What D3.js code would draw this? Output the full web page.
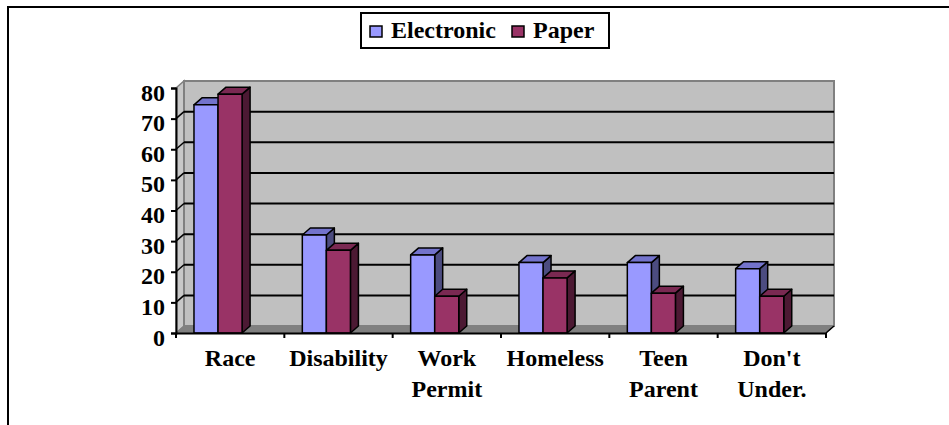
<!DOCTYPE html>
<html>
<head>
<meta charset="utf-8">
<script src="https://cdn.jsdelivr.net/npm/d3@7/dist/d3.min.js"></script>
<style>
  html, body { margin: 0; padding: 0; background: #ffffff; }
  svg { display: block; }
</style>
</head>
<body>
<svg id="chart" width="949" height="425"></svg>
<script>
// Survey responses by category, for each submission format
const categories = ["Race", "Disability", "Work Permit", "Homeless", "Teen Parent", "Don't Under."];
const categoryLines = [["Race"], ["Disability"], ["Work", "Permit"], ["Homeless"], ["Teen", "Parent"], ["Don't", "Under."]];
const seriesNames = ["Electronic", "Paper"];
const electronic = [74.5, 32, 25.5, 23, 23, 21];
const paper = [78, 27, 12, 18, 13, 12];
const yTicks = [0, 10, 20, 30, 40, 50, 60, 70, 80];

const seriesValues = [electronic, paper];
const faceColors = {
  Electronic: { front: "#9999ff", top: "#7373cc", side: "#4c4c80" },
  Paper: { front: "#993366", top: "#7a2952", side: "#4c1933" }
};
const FONT = "'Liberation Serif', 'Times New Roman', Times, serif";

const svg = d3.select("#chart");

function styleText(sel) {
  return sel.style("font-family", FONT).style("font-weight", "bold").style("fill", "#000");
}

// outer frame
svg.append("rect")
  .attr("x", 8).attr("y", 7).attr("width", 1000).attr("height", 500)
  .attr("fill", "none").attr("stroke", "#000").attr("stroke-width", 2);

// 3D projection offset for depth
const dx = 8, dy = 7;

const x0 = d3.scaleBand().domain(categories).range([176, 826]);
const x1 = d3.scaleBand().domain(seriesNames)
  .range([x0.bandwidth() * 0.166, x0.bandwidth() * 0.61]);
const y = d3.scaleLinear().domain([0, 80]).range([333, 88]);

const xL = 176, xR = 826, yBase = y(0), yTop = y(80);

// side wall (left)
svg.append("polygon")
  .attr("points", [[xL, yTop], [xL + dx, yTop - dy], [xL + dx, yBase - dy], [xL, yBase]].join(" "))
  .attr("fill", "#c8c8c8").attr("stroke", "#808080").attr("stroke-width", 1.5);

// back wall
svg.append("rect")
  .attr("x", xL + dx).attr("y", yTop - dy)
  .attr("width", xR - xL).attr("height", yBase - yTop)
  .attr("fill", "#c0c0c0").attr("stroke", "#808080").attr("stroke-width", 2);

// gridlines on back wall and side wall
const grid = svg.append("g");
yTicks.filter(t => t > 0 && t < 80).forEach(t => {
  grid.append("line")
    .attr("x1", xL + dx).attr("x2", xR + dx)
    .attr("y1", y(t) - dy).attr("y2", y(t) - dy)
    .attr("stroke", "#000").attr("stroke-width", 2);
  grid.append("line")
    .attr("x1", xL).attr("x2", xL + dx)
    .attr("y1", y(t)).attr("y2", y(t) - dy)
    .attr("stroke", "#000").attr("stroke-width", 1.5);
});

// floor
svg.append("polygon")
  .attr("points", [[xL, yBase], [xL + dx, yBase - dy], [xR + dx, yBase - dy], [xR, yBase]].join(" "))
  .attr("fill", "#808080").attr("stroke", "#808080").attr("stroke-width", 1);

// bars
const bars = svg.append("g");
categories.forEach((cat, ci) => {
  seriesNames.forEach((s, si) => {
    const v = seriesValues[si][ci];
    const bx = x0(cat) + x1(s);
    const w = x1.bandwidth();
    const by = y(v);
    const c = faceColors[s];
    const g = bars.append("g").attr("stroke", "#000").attr("stroke-width", 1.5).attr("stroke-linejoin", "round");
    g.append("polygon")
      .attr("points", [[bx + w, by], [bx + w + dx, by - dy], [bx + w + dx, yBase - dy], [bx + w, yBase]].join(" "))
      .attr("fill", c.side);
    g.append("polygon")
      .attr("points", [[bx, by], [bx + dx, by - dy], [bx + w + dx, by - dy], [bx + w, by]].join(" "))
      .attr("fill", c.top);
    g.append("rect")
      .attr("x", bx).attr("y", by).attr("width", w).attr("height", yBase - by)
      .attr("fill", c.front);
  });
});

// y axis
const yAxis = d3.axisLeft(y).tickValues(yTicks).tickSize(5).tickPadding(6).tickFormat(d3.format("d"));
const gy = svg.append("g").attr("transform", `translate(${xL},0)`).call(yAxis)
  .attr("font-family", null).attr("font-size", null);
gy.select(".domain").attr("stroke", "#000").attr("stroke-width", 2);
gy.selectAll(".tick line").attr("stroke", "#000").attr("stroke-width", 2);
styleText(gy.selectAll(".tick text"))
  .style("font-size", "24px").attr("dy", "0.42em").attr("y", 2);

// x axis
const xAxis = d3.axisBottom(x0).tickSize(0).tickFormat("");
const gx = svg.append("g").attr("transform", `translate(0,${yBase})`).call(xAxis);
gx.select(".domain").attr("stroke", "#000").attr("stroke-width", 2);
const boundaries = categories.map(c => x0(c)).concat([xR]);
gx.selectAll(".sep").data(boundaries).enter().append("line")
  .attr("x1", d => d).attr("x2", d => d).attr("y1", 0).attr("y2", 5)
  .attr("stroke", "#000").attr("stroke-width", 2);
svg.append("line")
  .attr("x1", xR).attr("y1", yBase).attr("x2", xR + dx).attr("y2", yBase - dy)
  .attr("stroke", "#000").attr("stroke-width", 1.5);

// category labels
const labels = svg.append("g");
categories.forEach((cat, ci) => {
  const cx = x0(cat) + x0.bandwidth() / 2;
  const t = styleText(labels.append("text")).attr("text-anchor", "middle").style("font-size", "24px");
  categoryLines[ci].forEach((line, li) => {
    t.append("tspan").attr("x", cx).attr("y", 366 + li * 31).text(line);
  });
});

// legend
const legend = svg.append("g");
legend.append("rect")
  .attr("x", 361).attr("y", 13).attr("width", 248).attr("height", 35)
  .attr("fill", "#fff").attr("stroke", "#000").attr("stroke-width", 2);
const legendItems = [
  { name: "Electronic", sx: 370, tx: 391 },
  { name: "Paper", sx: 512, tx: 533 }
];
legendItems.forEach(it => {
  legend.append("rect")
    .attr("x", it.sx).attr("y", 26).attr("width", 12).attr("height", 11)
    .attr("fill", faceColors[it.name].front).attr("stroke", "#000").attr("stroke-width", 1.5);
  styleText(legend.append("text")).attr("x", it.tx).attr("y", 38).style("font-size", "24px").text(it.name);
});
</script>
</body>
</html>
